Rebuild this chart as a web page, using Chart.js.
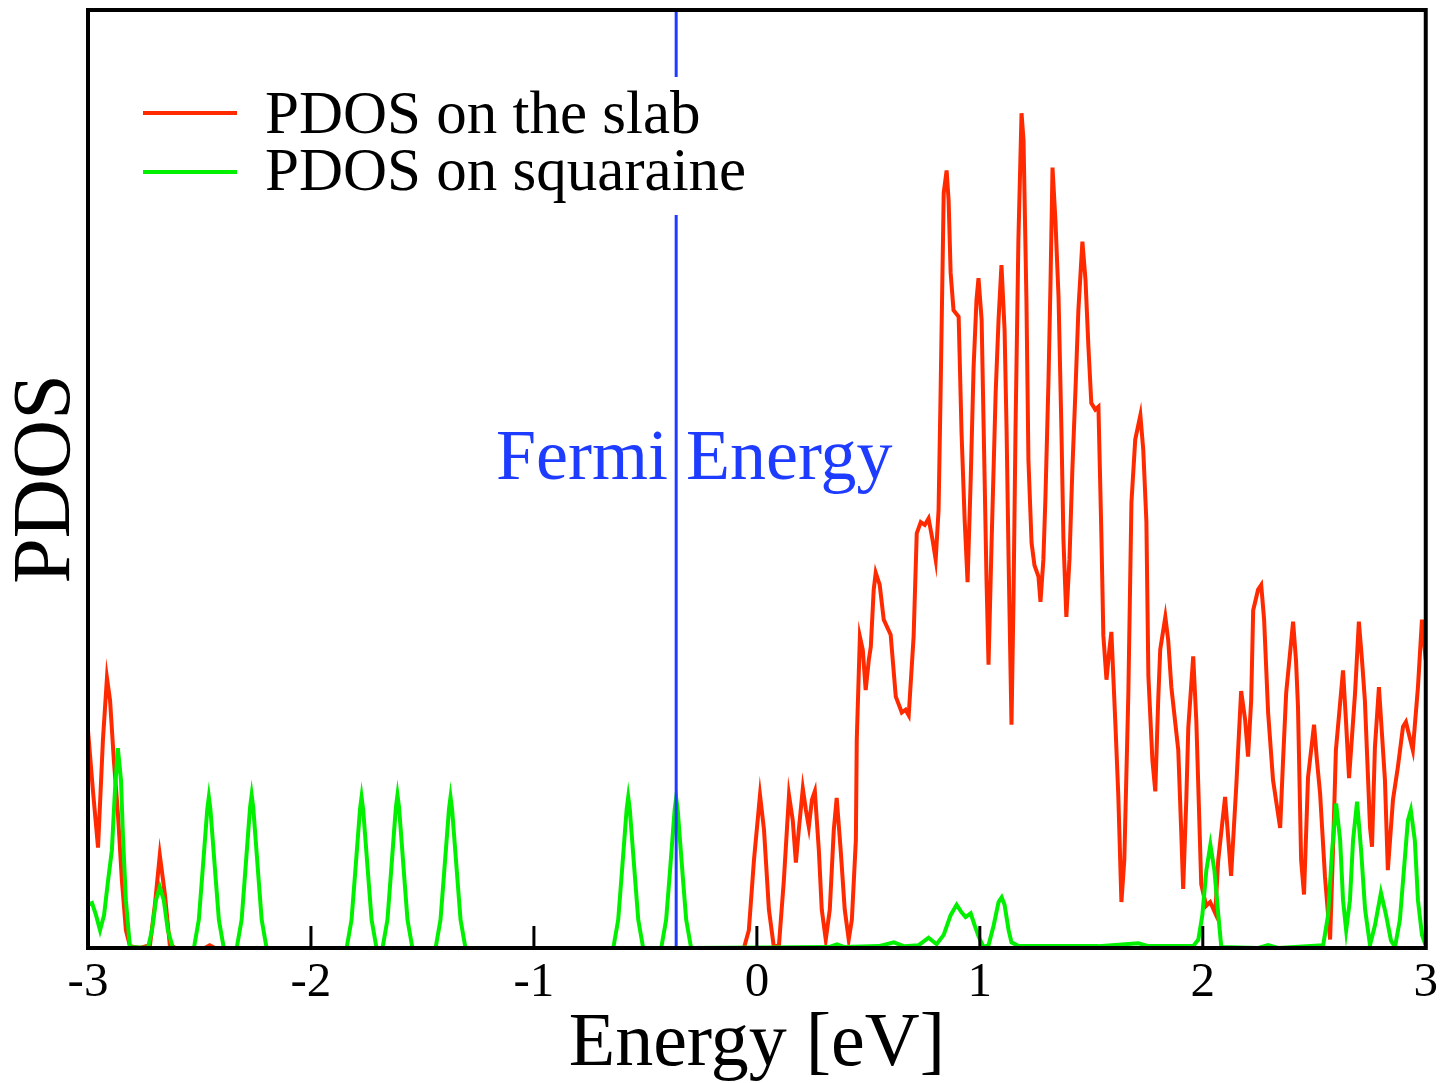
<!DOCTYPE html>
<html>
<head>
<meta charset="utf-8">
<title>PDOS</title>
<script src="https://cdn.jsdelivr.net/npm/chart.js@4.4.1/dist/chart.umd.min.js"></script>
<style>
  html, body { margin: 0; padding: 0; background: #fff; }
  #wrap { width: 1449px; height: 1083px; }
</style>
</head>
<body>
<div id="wrap"><canvas id="grafico-pdos" width="1449" height="1083"></canvas></div>
<script>
// Data (energy in eV, PDOS in arbitrary units 0..10)
const slabE = [
  -3.000,-2.978,-2.955,-2.933,-2.915,-2.901,-2.884,-2.866,-2.848,-2.830,
  -2.812,-2.767,-2.722,-2.700,-2.678,-2.655,-2.633,-2.606,-2.476,-2.454,
  -2.431,-0.058,-0.036,-0.013,0.014,0.032,0.054,0.076,0.099,0.121,
  0.144,0.161,0.175,0.188,0.206,0.220,0.233,0.247,0.260,0.278,
  0.291,0.309,0.327,0.345,0.358,0.376,0.394,0.412,0.426,0.444,
  0.448,0.462,0.475,0.488,0.502,0.511,0.524,0.533,0.551,0.569,
  0.600,0.623,0.650,0.667,0.681,0.703,0.717,0.735,0.753,0.770,
  0.788,0.802,0.815,0.824,0.838,0.851,0.860,0.869,0.882,0.905,
  0.918,0.932,0.945,0.959,0.972,0.985,0.994,1.008,1.021,1.030,
  1.039,1.053,1.071,1.084,1.097,1.111,1.120,1.129,1.142,1.151,
  1.160,1.173,1.187,1.196,1.209,1.218,1.232,1.245,1.263,1.272,
  1.285,1.294,1.308,1.317,1.326,1.339,1.353,1.366,1.375,1.388,
  1.402,1.415,1.429,1.442,1.460,1.474,1.487,1.500,1.518,1.532,
  1.545,1.554,1.568,1.581,1.590,1.608,1.621,1.635,1.648,1.666,
  1.680,1.697,1.720,1.733,1.747,1.756,1.774,1.787,1.800,1.809,
  1.832,1.845,1.859,1.890,1.903,1.912,1.926,1.935,1.957,1.971,
  1.993,2.015,2.033,2.056,2.069,2.100,2.127,2.150,2.172,2.190,
  2.203,2.217,2.226,2.248,2.262,2.275,2.293,2.315,2.347,2.360,
  2.374,2.405,2.418,2.427,2.441,2.454,2.472,2.499,2.512,2.526,
  2.548,2.571,2.584,2.597,2.629,2.642,2.656,2.683,2.700,2.714,
  2.727,2.750,2.759,2.772,2.790,2.817,2.830,2.853,2.875,2.898,
  2.911,2.942,2.965,2.983,3.000
];
const slabPdos = [
  2.32,1.68,1.07,2.22,2.88,2.64,2.00,1.44,0.72,0.19,
  0.02,0,0.03,0.46,0.99,0.57,0.03,0,0,0.03,
  0,0,0.19,0.94,1.63,1.26,0.41,0.01,0.03,0.72,
  1.63,1.36,0.91,1.26,1.70,1.47,1.29,1.58,1.67,1.04,
  0.41,0.09,0.41,1.26,1.60,1.04,0.41,0.09,0.30,1.15,
  2.22,3.32,3.18,2.75,3.07,3.21,3.82,4.00,3.87,3.50,
  3.34,2.68,2.51,2.54,2.48,3.32,4.42,4.54,4.51,4.58,
  4.35,4.14,4.67,5.92,8.05,8.29,7.97,7.20,6.80,6.73,
  5.49,4.56,3.90,4.99,6.19,6.91,7.14,6.70,5.06,3.92,
  3.02,4.35,5.92,6.70,7.28,6.59,5.52,4.14,2.38,3.71,
  5.52,7.55,8.90,8.61,6.91,5.20,4.32,4.08,3.96,3.69,
  4.14,4.78,6.06,7.09,8.32,7.76,6.94,5.52,4.35,3.53,
  4.14,5.10,5.95,6.80,7.53,7.12,6.41,5.81,5.74,5.77,
  4.42,3.33,2.86,3.18,3.37,2.39,1.63,0.49,0.94,2.70,
  4.75,5.42,5.68,5.31,4.55,2.90,2.00,1.67,2.64,3.18,
  3.53,3.28,2.78,2.11,1.26,0.63,1.58,2.35,3.11,2.42,
  0.68,0.45,0.49,0.37,0.93,1.61,0.77,1.72,2.74,2.43,
  2.04,2.64,3.60,3.82,3.87,3.50,2.51,1.79,1.28,2.00,
  2.72,3.48,3.07,2.57,0.94,0.57,1.82,2.38,2.00,1.65,
  0.76,0.09,1.04,2.11,2.96,2.43,1.81,2.72,3.48,3.07,
  2.64,1.29,1.08,2.14,2.78,1.79,0.83,1.58,1.93,2.36,
  2.41,2.11,2.78,3.50,3.07
];

const dyeE = [
  -3.000,-2.982,-2.964,-2.946,-2.928,-2.910,-2.893,-2.879,-2.866,-2.852,
  -2.843,-2.830,-2.812,-2.731,-2.713,-2.695,-2.678,-2.660,-2.642,-2.619,
  -2.525,-2.503,-2.488,-2.473,-2.465,-2.458,-2.451,-2.443,-2.428,-2.413,-2.391,
  -2.333,-2.311,-2.296,-2.281,-2.273,-2.266,-2.259,-2.251,-2.236,-2.221,-2.199,
  -1.840,-1.818,-1.803,-1.788,-1.780,-1.773,-1.766,-1.758,-1.743,-1.728,-1.706,
  -1.679,-1.657,-1.642,-1.627,-1.619,-1.612,-1.605,-1.597,-1.582,-1.567,-1.545,
  -1.441,-1.419,-1.404,-1.389,-1.381,-1.374,-1.367,-1.359,-1.344,-1.329,-1.307,
  -0.644,-0.622,-0.607,-0.592,-0.584,-0.577,-0.570,-0.562,-0.547,-0.532,-0.510,
  -0.429,-0.407,-0.392,-0.377,-0.369,-0.362,-0.355,-0.347,-0.332,-0.317,-0.295,
  0.323,0.359,0.394,0.547,0.614,0.659,0.726,0.770,0.806,0.838,
  0.869,0.896,0.918,0.936,0.959,0.977,0.995,1.017,1.039,1.062,
  1.084,1.098,1.111,1.129,1.142,1.174,1.532,1.711,1.756,1.957,
  1.980,1.998,2.016,2.034,2.052,2.069,2.083,2.249,2.293,2.338,
  2.540,2.562,2.580,2.598,2.616,2.629,2.643,2.660,2.674,2.692,
  2.710,2.728,2.750,2.772,2.799,2.822,2.844,2.862,2.884,2.902,
  2.920,2.933,2.951,2.965,2.983,2.996,3.000
];
const dyePdos = [
  0.46,0.48,0.35,0.19,0.35,0.72,1.04,1.68,2.13,1.79,
  1.18,0.51,0.01,0,0.19,0.51,0.65,0.51,0.19,0,
  0,0.30,0.76,1.23,1.48,1.61,1.48,1.23,0.76,0.30,0,
  0,0.30,0.77,1.25,1.50,1.63,1.50,1.25,0.77,0.30,0,
  0,0.30,0.76,1.23,1.48,1.61,1.48,1.23,0.76,0.30,0,
  0,0.30,0.77,1.25,1.50,1.63,1.50,1.25,0.77,0.30,0,
  0,0.30,0.76,1.23,1.48,1.61,1.48,1.23,0.76,0.30,0,
  0,0.30,0.76,1.23,1.48,1.61,1.48,1.23,0.76,0.30,0,
  0,0.30,0.75,1.22,1.47,1.60,1.47,1.22,0.75,0.30,0,
  0.01,0.04,0.01,0.02,0.06,0.02,0.03,0.11,0.04,0.14,
  0.35,0.46,0.38,0.33,0.37,0.24,0.12,0.01,0.03,0.24,
  0.49,0.54,0.46,0.19,0.06,0.02,0.02,0.05,0.02,0.02,
  0.09,0.35,0.83,1.10,0.83,0.37,0.01,0,0.03,0,
  0.03,0.35,1.04,1.54,1.15,0.51,0.19,0.51,1.15,1.56,
  1.04,0.41,0.03,0.24,0.59,0.35,0.08,0.01,0.30,0.83,
  1.36,1.47,1.15,0.51,0.14,0.05,0.04
];

const xTicks = [-3, -2, -1, 0, 1, 2, 3];
const fermiE = -0.362;
const fermiLabel = 'Fermi Energy';
const fermiLabelAt = [-1.17, 5.0];
const seriesNames = ['PDOS on the slab', 'PDOS on squaraine'];
const cores = { slab: '#ff2a00', dye: '#00f000', fermi: '#1e3cff' };
const serif = '"Liberation Serif", "DejaVu Serif", serif';

const pts = (xs, ys) => xs.map((x, i) => ({ x: x, y: ys[i] }));

// Frame, inward ticks, legend and Fermi label
const decor = {
  id: 'decor',
  afterDatasetsDraw(chart) {
    const { ctx, chartArea: a, scales: { x, y } } = chart;
    ctx.save();
    // legend box (white, hides the Fermi line behind it)
    ctx.fillStyle = '#fff';
    ctx.fillRect(130, 77, 640, 138);
    const rows = [[cores.slab, 113, 133], [cores.dye, 172, 190]];
    rows.forEach((r, i) => {
      ctx.strokeStyle = r[0]; ctx.lineWidth = 4;
      ctx.beginPath(); ctx.moveTo(143, r[1]); ctx.lineTo(237, r[1]); ctx.stroke();
      ctx.fillStyle = '#000'; ctx.font = '61px ' + serif;
      ctx.textBaseline = 'alphabetic'; ctx.textAlign = 'left';
      ctx.fillText(seriesNames[i], 265, r[2]);
    });
    // Fermi label in data coordinates
    ctx.fillStyle = cores.fermi; ctx.font = '72px ' + serif;
    ctx.fillText(fermiLabel, x.getPixelForValue(fermiLabelAt[0]), y.getPixelForValue(fermiLabelAt[1]));
    // ticks pointing inwards
    ctx.strokeStyle = '#000'; ctx.lineWidth = 3;
    xTicks.forEach(t => {
      const px = x.getPixelForValue(t);
      ctx.beginPath(); ctx.moveTo(px, a.bottom); ctx.lineTo(px, a.bottom - 22); ctx.stroke();
    });
    // frame
    ctx.lineWidth = 4;
    ctx.strokeRect(a.left, a.top, a.right - a.left, a.bottom - a.top);
    ctx.restore();
  }
};

const ctx = document.getElementById('grafico-pdos').getContext('2d');
const chart = new Chart(ctx, {
  type: 'line',
  data: {
    datasets: [
      { label: 'Fermi', data: [{ x: fermiE, y: 0 }, { x: fermiE, y: 10 }], borderColor: cores.fermi, borderWidth: 3 },
      { label: seriesNames[1], data: pts(dyeE, dyePdos), borderColor: cores.dye, borderWidth: 4 },
      { label: seriesNames[0], data: pts(slabE, slabPdos), borderColor: cores.slab, borderWidth: 4 }
    ]
  },
  options: {
    responsive: false,
    animation: false,
    devicePixelRatio: 1,
    layout: { padding: { left: 6, right: 19, top: 10, bottom: 0 } },
    elements: { point: { radius: 0 }, line: { tension: 0, fill: false } },
    plugins: { legend: { display: false }, tooltip: { enabled: false } },
    scales: {
      x: {
        type: 'linear', min: -3, max: 3,
        afterBuildTicks: s => { s.ticks = xTicks.map(v => ({ value: v })); },
        ticks: { color: '#000', padding: 11, maxRotation: 0, autoSkip: false,
                 font: { family: serif, size: 49, lineHeight: 1 }, callback: v => String(v) },
        grid: { display: false, drawTicks: false },
        border: { display: false },
        title: { display: true, text: 'Energy [eV]', color: '#000', padding: { top: -12, bottom: 0 },
                 font: { family: serif, size: 76, lineHeight: 1 } }
      },
      y: {
        min: 0, max: 10,
        ticks: { display: false },
        grid: { display: false, drawTicks: false },
        border: { display: false },
        title: { display: true, text: 'PDOS', color: '#000', padding: 0,
                 font: { family: serif, size: 82, lineHeight: 1 } }
      }
    }
  },
  plugins: [decor]
});
</script>
</body>
</html>
